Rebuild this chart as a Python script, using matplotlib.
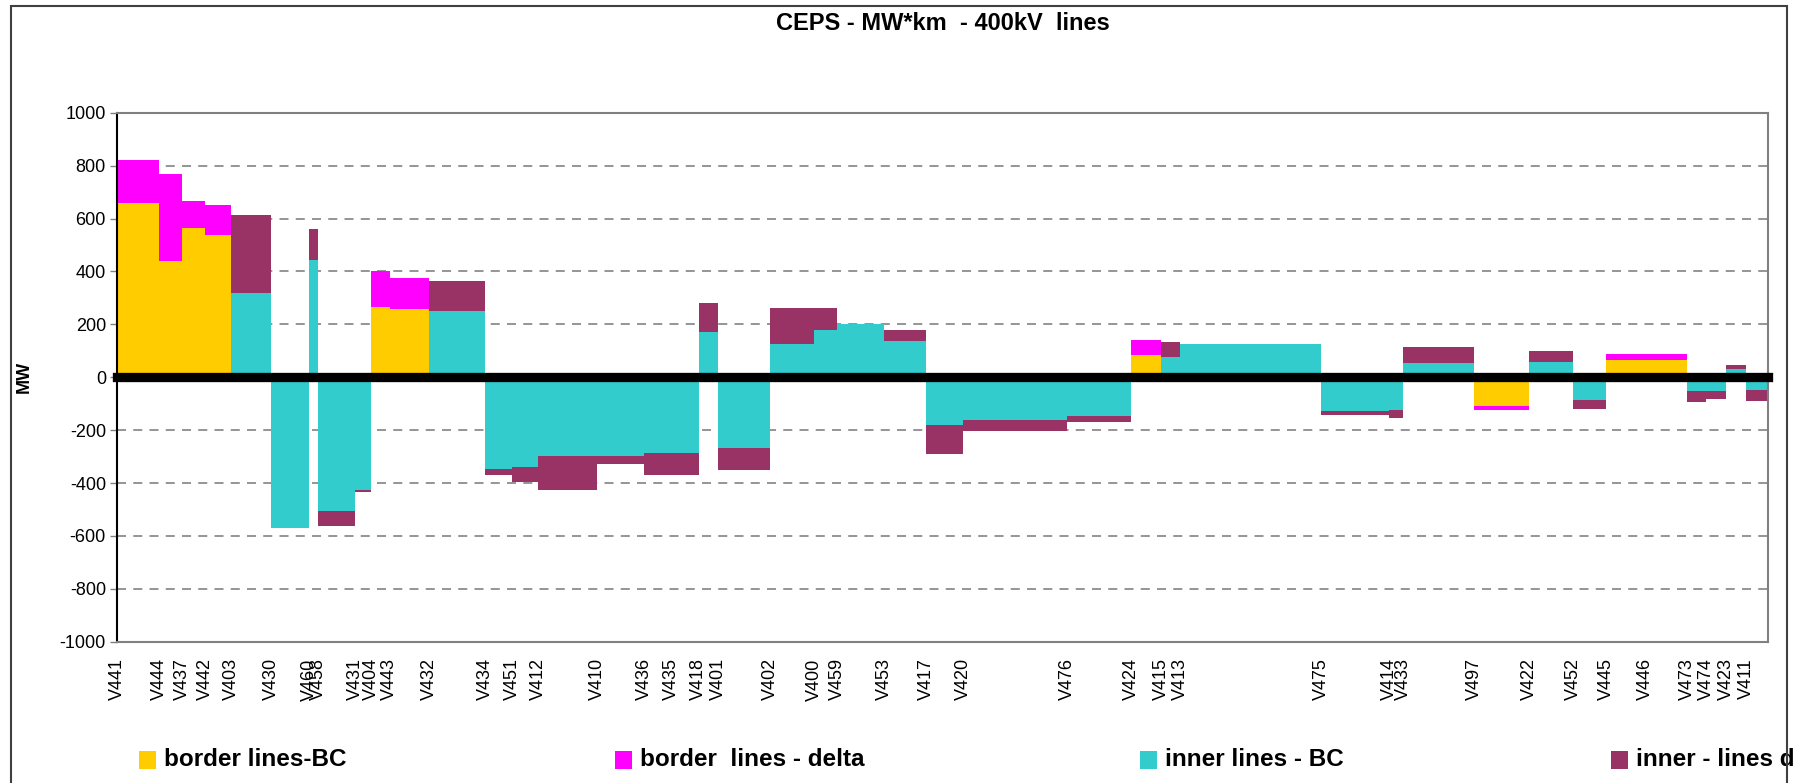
import numpy as np
import matplotlib
matplotlib.use("Agg")
import matplotlib.pyplot as plt
from matplotlib.patches import Rectangle

plt.rcParams['font.family'] = ['Liberation Sans', 'DejaVu Sans']

# ---------------- data: line names, line lengths (bar widths) and flows ----------------
lines = ['V441', 'V444', 'V437', 'V442', 'V403', 'V430', 'V460', 'V458', 'V431', 'V404',
         'V443', 'V432', 'V434', 'V451', 'V412', 'V410', 'V436', 'V435', 'V418', 'V401',
         'V402', 'V400', 'V459', 'V453', 'V417', 'V420', 'V476', 'V424', 'V415', 'V413',
         'V475', 'V414', 'V433', 'V497', 'V422', 'V452', 'V445', 'V446', 'V473', 'V474',
         'V423', 'V411']
length = [42, 23, 23, 26, 40, 38, 9, 37, 16, 18.5,
          39.5, 56, 27, 26, 59, 47, 27, 27.5, 19.5, 52,
          44, 23, 47, 42, 37, 104, 64, 30, 19, 141,
          68, 14, 71, 55, 44, 33, 39, 42, 19, 20,
          20, 22]
border_bc = [660, 440, 565, 537, 0, 0, 0, 0, 0, 265,
             257, 0, 0, 0, 0, 0, 0, 0, 0, 0,
             0, 0, 0, 0, 0, 0, 0, 83, 0, 0,
             0, 0, 0, -110, 0, 0, 64, 64, 0, 0,
             0, 0]
border_delta = [160, 330, 100, 115, 0, 0, 0, 0, 0, 135,
                117, 0, 0, 0, 0, 0, 0, 0, 0, 0,
                0, 0, 0, 0, 0, 0, 0, 57, 0, 0,
                0, 0, 0, -15, 0, 0, 23, 23, 0, 0,
                0, 0]
inner_bc = [0, 0, 0, 0, 318, -571, 443, -507, -427, 0,
            0, 250, -348, -340, -299, -299, -288, -288, 170, -269,
            125, 178, 200, 136, -182, -163, -148, 0, 76, 125,
            -129, -125, 53, 0, 57, -87, 0, 0, -53, -53,
            30, -49]
inner_delta = [0, 0, 0, 0, 295, 0, 117, -57, -8, 0,
               0, 113, -23, -57, -128, -30, -83, -83, 110, -83,
               136, 83, 0, 42, -109, -41, -22, 0, 56, 0,
               -15, -30, 60, 0, 41, -34, 0, 0, -42, -30,
               15, -42]

labels = ['border lines-BC', 'border  lines - delta', 'inner lines - BC', 'inner - lines delta']
colors = ['#FFCC00', '#FF00FF', '#33CCCC', '#993366']

W, H = 1814, 783
fig = plt.figure(figsize=(W / 100, H / 100), dpi=100)
ax = fig.add_axes([117 / W, 1 - 641.7 / H, (1768 - 117) / W, (641.7 - 112.7) / H])

length = np.array(length, dtype=float)
left = np.concatenate([[0], np.cumsum(length)[:-1]])
bb, bd = np.array(border_bc, float), np.array(border_delta, float)
ib, idl = np.array(inner_bc, float), np.array(inner_delta, float)

# stacked: base flow from zero, delta on top of it
ax.bar(left, bb, width=length, align='edge', color=colors[0], linewidth=0, zorder=2)
ax.bar(left, bd, bottom=bb, width=length, align='edge', color=colors[1], linewidth=0, zorder=2)
ax.bar(left, ib, width=length, align='edge', color=colors[2], linewidth=0, zorder=2)
ax.bar(left, idl, bottom=ib, width=length, align='edge', color=colors[3], linewidth=0, zorder=2)

ax.axhline(0, color='black', lw=6.7, zorder=3, clip_on=False)

ax.set_xlim(0, length.sum())
ax.set_ylim(-1000, 1000)
yt = np.arange(-1000, 1001, 200)
ax.set_yticks(yt)
ax.set_yticklabels([str(v) for v in yt], fontsize=13)
for v in yt[1:-1]:
    if v != 0:
        ax.axhline(v, color='#8c8c8c', lw=1.3, ls=(0, (5, 4)), zorder=1)

ax.set_xticks(left)
ax.set_xticklabels(lines, rotation=90, fontsize=13)
ax.tick_params(axis='x', length=0, pad=12)
ax.tick_params(axis='y', length=5, width=1, color='#808080', pad=3)

for s in ['top', 'bottom', 'right']:
    ax.spines[s].set_color('#808080')
    ax.spines[s].set_linewidth(1.5)
ax.spines['left'].set_color('black')
ax.spines['left'].set_linewidth(1.5)

fig.text(943 / W, 1 - 23 / H, 'CEPS - MW*km  - 400kV  lines', ha='center', va='center',
         fontsize=17, fontweight='bold')
fig.text(24 / W, 1 - 377 / H, 'MW', rotation=90, ha='center', va='center',
         fontsize=13, fontweight='bold')

# legend along the bottom
leg_x = [139, 615, 1140, 1611]
for x0, lab, c in zip(leg_x, labels, colors):
    fig.patches.append(Rectangle((x0 / W, 1 - 769 / H), 17 / W, 18 / H,
                                 transform=fig.transFigure, facecolor=c, edgecolor='none'))
    fig.text((x0 + 25) / W, 1 - 760 / H, lab, ha='left', va='center',
             fontsize=17.5, fontweight='bold')

# outer frame, clipped on the right
fig.patches.append(Rectangle((11 / W, -0.05), (1787 - 11) / W, 1.05 - 6 / H,
                             transform=fig.transFigure, fill=False,
                             edgecolor='#404040', lw=1.5, zorder=5))
fig.patches.append(Rectangle((1793 / W, 0), 1, 1, transform=fig.transFigure,
                             facecolor='white', edgecolor='none', zorder=10))

fig.savefig('out.png', dpi=100)
